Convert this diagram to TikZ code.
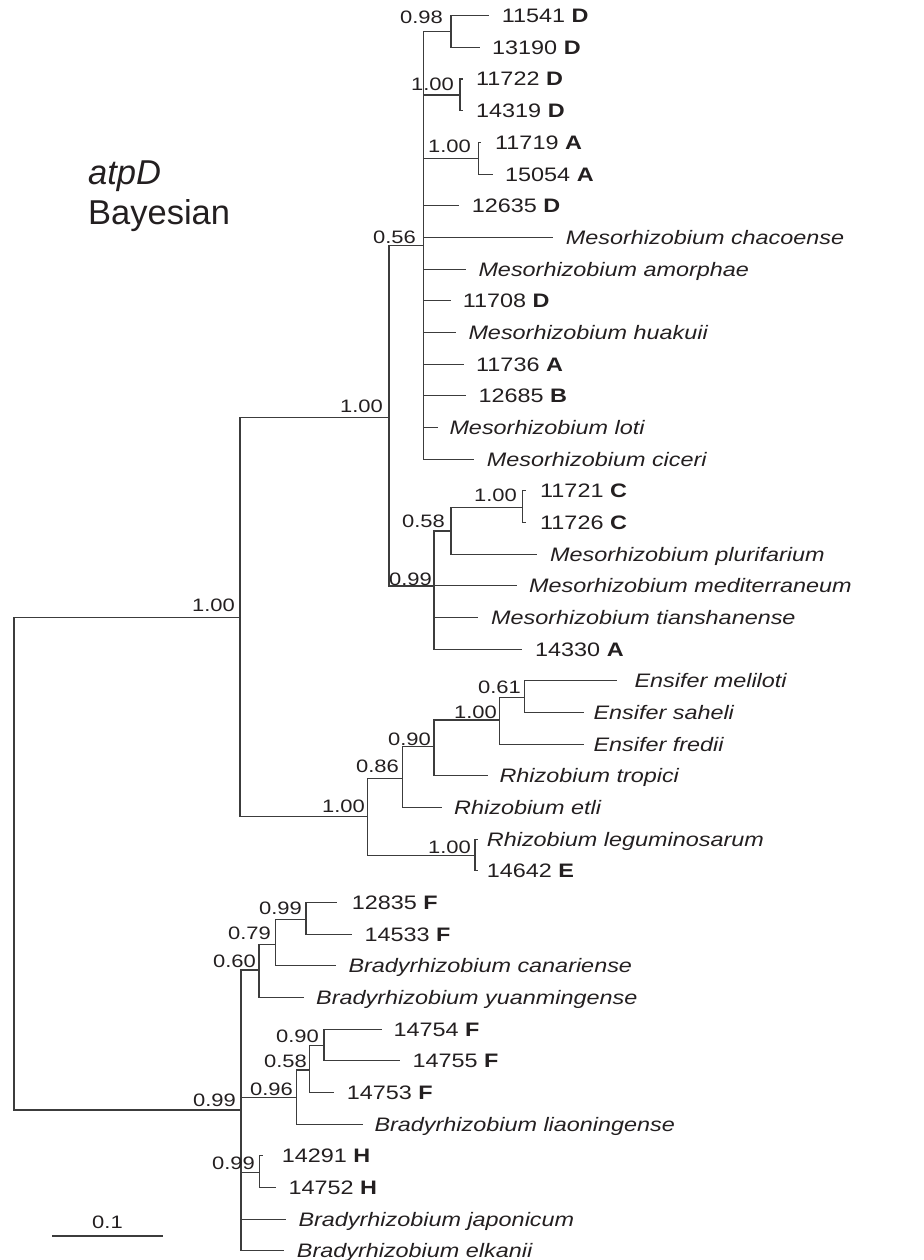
\documentclass[tikz,border=0pt]{standalone}
\usepackage{fontspec}
\setmainfont{Liberation Sans}
\newfontfamily\leaffont[FakeStretch=1.2]{Liberation Sans}
\newfontfamily\supfont[FakeStretch=1.22]{Liberation Sans}
\newfontfamily\ttlfont{Liberation Sans}
\definecolor{ink}{HTML}{231F20}
\definecolor{branch}{HTML}{3C3C3C}
\newcommand\spn[1]{\textit{#1}}
\begin{document}
\begin{tikzpicture}[x=1pt,y=-1pt,
  br/.style={draw=branch, line width=1.1pt},
  leaf/.style={anchor=base west, inner sep=0pt, text=ink, font=\leaffont\fontsize{19.5}{23}\selectfont, yshift=-7pt},
  sup/.style={anchor=base east, inner sep=0pt, text=ink, font=\supfont\fontsize{18}{21}\selectfont},
  ttl/.style={inner sep=0pt, text=ink, font=\ttlfont\fontsize{34.5}{40}\selectfont}]
\useasboundingbox (0,0) rectangle (923,1260);

% ---- internal nodes ----
\coordinate (R) at (14,863.9);
\coordinate (A) at (240,617.7);
\coordinate (M) at (389,417.7);
\coordinate (N056) at (423.5,245.7);
\coordinate (N098) at (451,31.5);
\coordinate (N100a) at (460,95);
\coordinate (N100b) at (478.3,158.3);
\coordinate (N099m) at (434,586);
\coordinate (N058) at (451,531);
\coordinate (N100c) at (522.7,507.3);
\coordinate (Rz) at (367.7,816.7);
\coordinate (N086) at (402.7,778.3);
\coordinate (N090) at (434,746.7);
\coordinate (N100d) at (499.3,720);
\coordinate (N061) at (524.3,697.3);
\coordinate (Nleg) at (475,855.7);
\coordinate (B) at (241,1110);
\coordinate (N060) at (259,970);
\coordinate (N079) at (275.7,944.3);
\coordinate (N099b) at (306,919.3);
\coordinate (N096) at (296.7,1097.3);
\coordinate (N058b) at (309.3,1070);
\coordinate (N090b) at (324,1045.7);
\coordinate (N099H) at (259.3,1172.7);

% ---- leaves: line ends and labels ----
\coordinate (e0) at (489,15.7);    \node[leaf] (t0) at (501.7,15.7) {11541 \textbf{D}};
\coordinate (e1) at (480,47.4);    \node[leaf] (t1) at (492,47.4) {13190 \textbf{D}};
\coordinate (e2) at (462.5,79.0);  \node[leaf] (t2) at (476,79.0) {11722 \textbf{D}};
\coordinate (e3) at (462.7,110.7); \node[leaf] (t3) at (476,110.7) {14319 \textbf{D}};
\coordinate (e4) at (481,142.4);   \node[leaf] (t4) at (495,142.4) {11719 \textbf{A}};
\coordinate (e5) at (493.3,174.1); \node[leaf] (t5) at (505,174.1) {15054 \textbf{A}};
\coordinate (e6) at (459.3,205.7); \node[leaf] (t6) at (471.7,205.7) {12635 \textbf{D}};
\coordinate (e7) at (553.3,237.4); \node[leaf] (t7) at (565.7,237.4) {\spn{Mesorhizobium chacoense}};
\coordinate (e8) at (465.7,269.1); \node[leaf] (t8) at (478.3,269.1) {\spn{Mesorhizobium amorphae}};
\coordinate (e9) at (450.7,300.7); \node[leaf] (t9) at (462.7,300.7) {11708 \textbf{D}};
\coordinate (e10) at (456,332.4);  \node[leaf] (t10) at (468.3,332.4) {\spn{Mesorhizobium huakuii}};
\coordinate (e11) at (464,364.1);  \node[leaf] (t11) at (476,364.1) {11736 \textbf{A}};
\coordinate (e12) at (465.7,395.7); \node[leaf] (t12) at (478.3,395.7) {12685 \textbf{B}};
\coordinate (e13) at (437.7,427.4); \node[leaf] (t13) at (449.3,427.4) {\spn{Mesorhizobium loti}};
\coordinate (e14) at (474.3,459.1); \node[leaf] (t14) at (486.7,459.1) {\spn{Mesorhizobium ciceri}};
\coordinate (e15) at (525.5,490.8); \node[leaf] (t15) at (540,490.8) {11721 \textbf{C}};
\coordinate (e16) at (525.5,522.4); \node[leaf] (t16) at (540,522.4) {11726 \textbf{C}};
\coordinate (e17) at (536.7,554.1); \node[leaf] (t17) at (550,554.1) {\spn{Mesorhizobium plurifarium}};
\coordinate (e18) at (516.7,585.8); \node[leaf] (t18) at (529,585.8) {\spn{Mesorhizobium mediterraneum}};
\coordinate (e19) at (478.3,617.4); \node[leaf] (t19) at (491,617.4) {\spn{Mesorhizobium tianshanense}};
\coordinate (e20) at (521.7,649.1); \node[leaf] (t20) at (535,649.1) {14330 \textbf{A}};
\coordinate (e21) at (616.7,680.8); \node[leaf] (t21) at (634.3,680.8) {\spn{Ensifer meliloti}};
\coordinate (e22) at (584,712.4);   \node[leaf] (t22) at (593.3,712.4) {\spn{Ensifer saheli}};
\coordinate (e23) at (584,744.1);   \node[leaf] (t23) at (593.3,744.1) {\spn{Ensifer fredii}};
\coordinate (e24) at (488.3,775.8); \node[leaf] (t24) at (499.3,775.8) {\spn{Rhizobium tropici}};
\coordinate (e25) at (442.3,807.5); \node[leaf] (t25) at (454,807.5) {\spn{Rhizobium etli}};
\coordinate (e26) at (477.5,839.1); \node[leaf] (t26) at (486.7,839.1) {\spn{Rhizobium leguminosarum}};
\coordinate (e27) at (477.5,870.8); \node[leaf] (t27) at (486.7,870.8) {14642 \textbf{E}};
\coordinate (e28) at (336.7,902.5); \node[leaf] (t28) at (351.7,902.5) {12835 \textbf{F}};
\coordinate (e29) at (351.7,934.1); \node[leaf] (t29) at (364.3,934.1) {14533 \textbf{F}};
\coordinate (e30) at (336,965.8);   \node[leaf] (t30) at (348.3,965.8) {\spn{Bradyrhizobium canariense}};
\coordinate (e31) at (304,997.5);   \node[leaf] (t31) at (316,997.5) {\spn{Bradyrhizobium yuanmingense}};
\coordinate (e32) at (381.7,1029.1); \node[leaf] (t32) at (393.3,1029.1) {14754 \textbf{F}};
\coordinate (e33) at (400,1060.8);  \node[leaf] (t33) at (412.3,1060.8) {14755 \textbf{F}};
\coordinate (e34) at (334.3,1092.5); \node[leaf] (t34) at (346.7,1092.5) {14753 \textbf{F}};
\coordinate (e35) at (362.7,1124.2); \node[leaf] (t35) at (374.3,1124.2) {\spn{Bradyrhizobium liaoningense}};
\coordinate (e36) at (262.5,1155.8); \node[leaf] (t36) at (281.7,1155.8) {14291 \textbf{H}};
\coordinate (e37) at (276,1187.5);  \node[leaf] (t37) at (288.3,1187.5) {14752 \textbf{H}};
\coordinate (e38) at (286,1219.2);  \node[leaf] (t38) at (298.3,1219.2) {\spn{Bradyrhizobium japonicum}};
\coordinate (e39) at (284,1250.8);  \node[leaf] (t39) at (296.7,1250.8) {\spn{Bradyrhizobium elkanii}};

% ---- branches ----
\draw[br] (R) |- (A);  \draw[br] (R) |- (B);
\draw[br] (A) |- (M);  \draw[br] (A) |- (Rz);
\draw[br] (M) |- (N056); \draw[br] (M) |- (N099m);
\foreach \c in {N098,N100a,N100b,e6,e7,e8,e9,e10,e11,e12,e13,e14} \draw[br] (N056) |- (\c);
\foreach \c in {e0,e1} \draw[br] (N098) |- (\c);
\foreach \c in {e2,e3} \draw[br] (N100a) |- (\c);
\foreach \c in {e4,e5} \draw[br] (N100b) |- (\c);
\foreach \c in {N058,e18,e19,e20} \draw[br] (N099m) |- (\c);
\foreach \c in {N100c,e17} \draw[br] (N058) |- (\c);
\foreach \c in {e15,e16} \draw[br] (N100c) |- (\c);
\foreach \c in {N086,Nleg} \draw[br] (Rz) |- (\c);
\foreach \c in {N090,e25} \draw[br] (N086) |- (\c);
\foreach \c in {N100d,e24} \draw[br] (N090) |- (\c);
\foreach \c in {N061,e23} \draw[br] (N100d) |- (\c);
\foreach \c in {e21,e22} \draw[br] (N061) |- (\c);
\foreach \c in {e26,e27} \draw[br] (Nleg) |- (\c);
\foreach \c in {N060,N096,N099H,e38,e39} \draw[br] (B) |- (\c);
\foreach \c in {N079,e31} \draw[br] (N060) |- (\c);
\foreach \c in {N099b,e30} \draw[br] (N079) |- (\c);
\foreach \c in {e28,e29} \draw[br] (N099b) |- (\c);
\foreach \c in {N058b,e35} \draw[br] (N096) |- (\c);
\foreach \c in {N090b,e34} \draw[br] (N058b) |- (\c);
\foreach \c in {e32,e33} \draw[br] (N090b) |- (\c);
\foreach \c in {e36,e37} \draw[br] (N099H) |- (\c);

% ---- support values ----
\node[sup] (s1) at (443,24) {0.98};
\node[sup] (s2) at (454,91) {1.00};
\node[sup] (s3) at (471,153) {1.00};
\node[sup] (s4) at (416,243) {0.56};
\node[sup] (s5) at (383,412) {1.00};
\node[sup] (s6) at (235,611) {1.00};
\node[sup] (s7) at (517,501) {1.00};
\node[sup] (s8) at (445,527) {0.58};
\node[sup] (s9) at (432,585) {0.99};
\node[sup] (s10) at (521,693) {0.61};
\node[sup] (s11) at (497,718) {1.00};
\node[sup] (s12) at (431,745) {0.90};
\node[sup] (s13) at (399,772) {0.86};
\node[sup] (s14) at (365,812) {1.00};
\node[sup] (s15) at (471,853) {1.00};
\node[sup] (s16) at (302,914) {0.99};
\node[sup] (s17) at (271,939) {0.79};
\node[sup] (s18) at (256,967) {0.60};
\node[sup] (s19) at (319,1042) {0.90};
\node[sup] (s20) at (307,1067) {0.58};
\node[sup] (s21) at (293,1095) {0.96};
\node[sup] (s22) at (236,1106) {0.99};
\node[sup] (s23) at (255,1169) {0.99};

% ---- title ----
\node[ttl, anchor=base west] (bay) at (88,224) {Bayesian};
\node[ttl, anchor=base west, yshift=39pt] (atp) at (bay.base west) {\itshape atpD};

% ---- scale bar ----
\coordinate (sb1) at (52,1236);
\coordinate (sb2) at (163,1236);
\draw[br] (sb1) -- (sb2);
\node[sup, anchor=base] (sbl) at (107.5,1228) {0.1};
\end{tikzpicture}
\end{document}
